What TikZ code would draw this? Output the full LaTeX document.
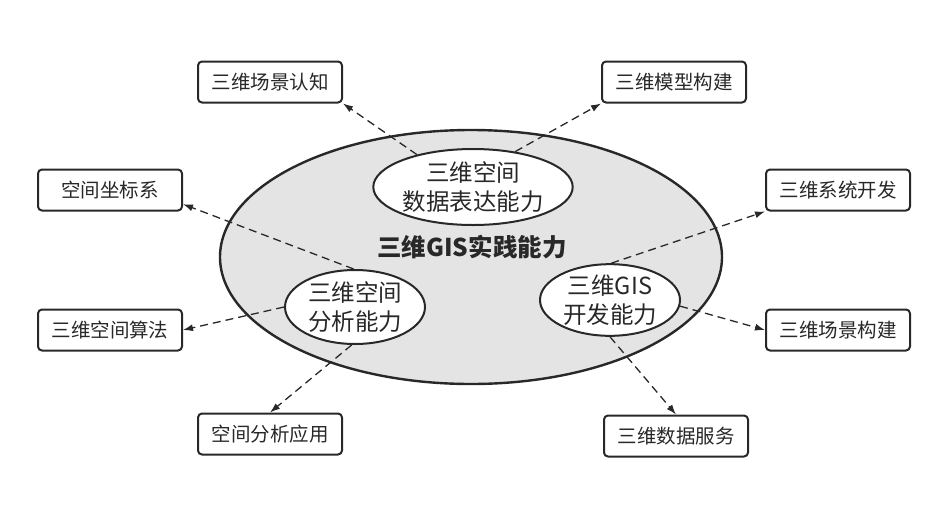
\documentclass[tikz,border=0pt]{standalone}
\usepackage{fontspec}
\setmainfont{Noto Sans CJK SC}
\usepackage{xcolor}
\definecolor{gisDark}{RGB}{40, 40, 40}
\definecolor{gisFill}{RGB}{228, 228, 228}
\usepackage{tikz}
\usetikzlibrary{
    shapes.geometric,
    arrows.meta
}

\begin{document}
\begin{tikzpicture}[
    x=1pt, y=-1pt,
    outerEllipse/.style={
        ellipse, draw=gisDark, line width=2.4pt,
        fill=gisFill, inner sep=0pt,
        minimum width=502pt, minimum height=254pt
    },
    abilityNode/.style={
        ellipse, draw=gisDark, line width=2pt,
        fill=white, text=gisDark,
        font=\fontsize{23.5}{29}\selectfont,
        align=center, inner sep=0pt
    },
    skillNode/.style={
        rectangle, rounded corners=4pt,
        draw=gisDark, line width=2pt,
        fill=white, text=gisDark,
        font=\fontsize{19.5}{22}\selectfont,
        inner sep=0pt, minimum width=144pt, minimum height=41pt
    },
    titleText/.style={
        font=\fontsize{24.5}{27}\selectfont\bfseries, text=gisDark
    },
    flowLine/.style={
        -{Latex[length=10pt, width=7pt]}, line width=1.3pt,
        draw=gisDark, dash pattern=on 8pt off 5pt
    }
]
    \useasboundingbox (0,0) rectangle (948,504);

    % Nodes
    \node[outerEllipse] (core) at (471, 257) {};
    \node[titleText] (title) at (472, 247) {三维GIS实践能力};

    \node[abilityNode, minimum width=174pt, minimum height=76pt] (dataAbility) at (473, 187) {三维空间\\数据表达能力};
    \node[abilityNode, minimum width=140pt, minimum height=74pt] (analysisAbility) at (355, 307) {三维空间\\分析能力};
    \node[abilityNode, minimum width=140pt, minimum height=68pt] (devAbility) at (610, 300) {三维GIS\\开发能力};

    \node[skillNode] (sceneCog) at (270, 82) {三维场景认知};
    \node[skillNode] (modelBuild) at (674, 82) {三维模型构建};
    \node[skillNode] (coordSys) at (110, 190) {空间坐标系};
    \node[skillNode] (spaceAlgo) at (110, 330) {三维空间算法};
    \node[skillNode] (analysisApp) at (270, 434) {空间分析应用};
    \node[skillNode] (sysDev) at (838, 190) {三维系统开发};
    \node[skillNode] (sceneBuild) at (838, 330) {三维场景构建};
    \node[skillNode] (dataService) at (676, 436) {三维数据服务};

    % Connections
    \draw[flowLine] (dataAbility.150) -- (sceneCog.south east);
    \draw[flowLine] (dataAbility.40) -- (modelBuild.south west);

    \draw[flowLine] (analysisAbility.92) -- (coordSys.-11);
    \draw[flowLine] (analysisAbility.west) -- (spaceAlgo.east);
    \draw[flowLine] (analysisAbility.-95) -- (analysisApp.north);

    \draw[flowLine] (devAbility.88) -- (sysDev.south west);
    \draw[flowLine] (devAbility.-5) -- (sceneBuild.west);
    \draw[flowLine] (devAbility.-90) -- (dataService.north);

\end{tikzpicture}
\end{document}
